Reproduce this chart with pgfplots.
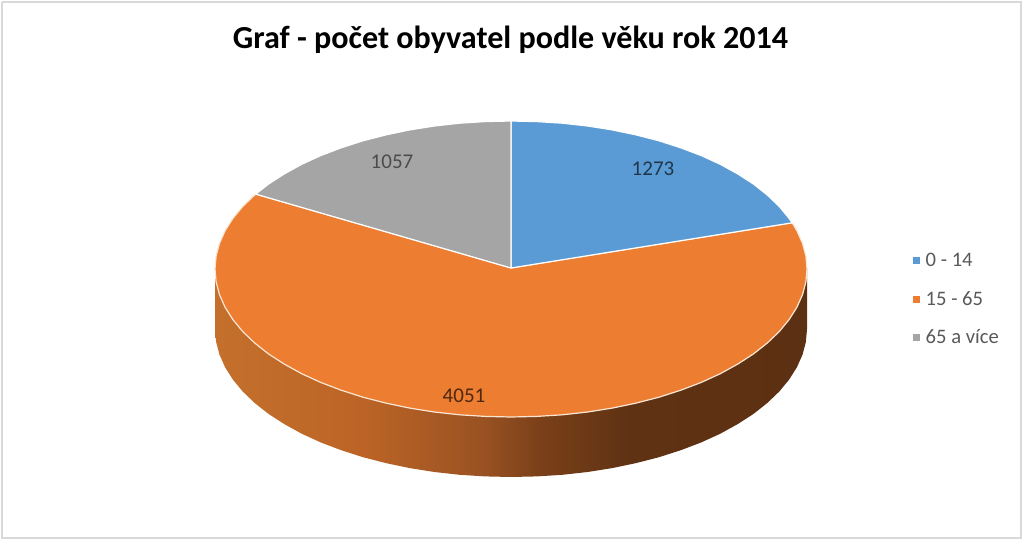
\documentclass[border=0pt]{standalone}
\usepackage{fontspec}
\setmainfont{Carlito}
\usepackage{pgfplots}
\pgfplotsset{compat=1.18}
\definecolor{bblue}{HTML}{5B9BD5}
\definecolor{oorange}{HTML}{ED7D31}
\definecolor{ggray}{HTML}{A5A5A5}
\definecolor{rim}{HTML}{FBE6D3}
\definecolor{frameg}{HTML}{D9D9D9}
\definecolor{wallA}{HTML}{C4702C}
\definecolor{wallB}{HTML}{BC6426}
\definecolor{wallC}{HTML}{9A5222}
\definecolor{wallD}{HTML}{7A4019}
\definecolor{wallE}{HTML}{5F3213}
\definecolor{wallF}{HTML}{5C3012}
% side wall of the pie, light on the left and dark on the right
\pgfdeclarehorizontalshading{wall}{100bp}{
	color(0bp)=(wallA);
	color(25bp)=(wallA);
	color(37.5bp)=(wallB);
	color(47.5bp)=(wallC);
	color(52.5bp)=(wallD);
	color(60bp)=(wallE);
	color(75bp)=(wallF);
	color(100bp)=(wallF)
}

\begin{document}
\begin{tikzpicture}
	\begin{axis}[
		scale only axis,
		width=1023pt,
		height=541pt,
		xmin=0, xmax=1023,
		ymin=0, ymax=541,
		y dir=reverse,
		hide axis,
		clip=false,
		legend style={
			at={(0.892,0.536)},
			anchor=north west,
			draw=none,
			fill=none,
			font=\fontsize{20.6}{24}\selectfont,
			text=black!65,
			row sep=19pt,
			inner sep=0pt,
			/tikz/column 1/.style={column sep=5pt}
		},
		legend cell align=left
	]
		% picture frame
		\addplot[frameg, line width=2pt, forget plot] coordinates {(2,1.5) (1020.5,1.5) (1020.5,537.5) (2,537.5) (2,1.5)};
		\addplot[draw=none, forget plot] coordinates {(0,0) (1023,541)};

		% wall
		\addplot[shading=wall, draw=none, forget plot] coordinates {
			(807,269) (807,329) (805.9,341.9) (802.5,354.7) (796.9,367.3) (789.1,379.6) (779.3,391.5) (767.3,403)
			(753.5,413.9) (737.7,424.1) (720.3,433.7) (701.3,442.4) (680.8,450.2) (659,457.2) (636.1,463.1)
			(612.2,468.1) (587.6,472) (562.4,474.8) (536.8,476.4) (511,477) (485.2,476.4) (459.6,474.8) (434.4,472)
			(409.8,468.1) (385.9,463.1) (363,457.2) (341.2,450.2) (320.7,442.4) (301.7,433.7) (284.3,424.1)
			(268.5,413.9) (254.7,403) (242.7,391.5) (232.9,379.6) (225.1,367.3) (219.5,354.7) (216.1,341.9)
			(215,329) (215,269)
		};

		% 4051
		\addplot[fill=oorange, draw=rim, line width=1.2pt, forget plot] coordinates {
			(511,268) (792.2,222.8) (796.9,230.7) (802.5,243.3) (805.9,256.1) (807,269) (805.9,281.9) (802.5,294.7)
			(796.9,307.3) (789.1,319.6) (779.3,331.5) (767.3,343) (753.5,353.9) (737.7,364.1) (720.3,373.7)
			(701.3,382.4) (680.8,390.2) (659,397.2) (636.1,403.1) (612.2,408.1) (587.6,412) (562.4,414.8)
			(536.8,416.4) (511,417) (485.2,416.4) (459.6,414.8) (434.4,412) (409.8,408.1) (385.9,403.1) (363,397.2)
			(341.2,390.2) (320.7,382.4) (301.7,373.7) (284.3,364.1) (268.5,353.9) (254.7,343) (242.7,331.5)
			(232.9,319.6) (225.1,307.3) (219.5,294.7) (216.1,281.9) (215,269) (216.1,256.1) (219.5,243.3)
			(225.1,230.7) (232.9,218.4) (242.7,206.5) (254.7,195) (255.7,194.1) (511,268)
		};
		% 1273
		\addplot[fill=bblue, draw=white, line width=1.2pt, forget plot] coordinates {
			(511,268) (511,121) (536.8,121.6) (562.4,123.2) (587.6,126) (612.2,129.9) (636.1,134.9) (659,140.8)
			(680.8,147.8) (701.3,155.6) (720.3,164.3) (737.7,173.9) (753.5,184.1) (767.3,195) (779.3,206.5)
			(789.1,218.4) (792.2,222.8) (511,268)
		};
		% 1057
		\addplot[fill=ggray, draw=white, line width=1.2pt, forget plot] coordinates {
			(511,268) (255.7,194.1) (268.5,184.1) (284.3,173.9) (301.7,164.3) (320.7,155.6) (341.2,147.8) (363,140.8)
			(385.9,134.9) (409.8,129.9) (434.4,126) (459.6,123.2) (485.2,121.6) (511,121) (511,268)
		};

		\node[font=\fontsize{32.1}{36}\selectfont\bfseries, text=black] at (axis cs:510.5,40) {Graf - počet obyvatel podle věku rok 2014};
		\node[font=\fontsize{21}{25}\selectfont, text=black!50!bblue!70!black] at (axis cs:653,169) {1273};
		\node[font=\fontsize{21}{25}\selectfont, text=black!70] at (axis cs:392,162) {1057};
		\node[font=\fontsize{21}{25}\selectfont, text=black!45!oorange!60!black] at (axis cs:464,396) {4051};

		\addlegendimage{only marks, mark=square*, mark size=3pt, color=bblue}
		\addlegendentry{0 - 14}
		\addlegendimage{only marks, mark=square*, mark size=3pt, color=oorange}
		\addlegendentry{15 - 65}
		\addlegendimage{only marks, mark=square*, mark size=3pt, color=ggray}
		\addlegendentry{65 a více}
	\end{axis}
\end{tikzpicture}
\end{document}
